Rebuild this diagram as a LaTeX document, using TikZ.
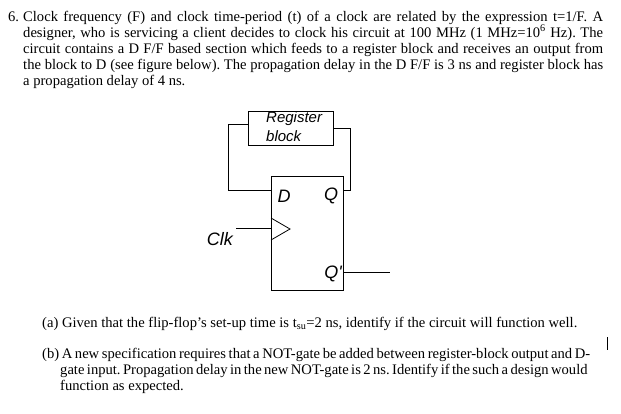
\documentclass[tikz,border=0pt]{standalone}
\usepackage{fontspec}
\setmainfont{Liberation Serif}
\newfontfamily\arial{Liberation Sans}
\begin{document}
\frenchspacing
\begin{tikzpicture}[x=1pt,y=-1pt,
  txt/.style={anchor=base west,inner sep=0pt,font=\fontsize{14.6}{17}\selectfont},
  lbl/.style={inner sep=0pt,font=\arial\itshape\fontsize{18}{20}\selectfont},
  rlbl/.style={inner sep=0pt,font=\arial\itshape\fontsize{15}{17}\selectfont},
  wire/.style={line width=0.8pt}]
\useasboundingbox (0,0) rectangle (621,413);
\node[txt] (n6) at (8,21) {6.};
\node[txt] (l1) at (23,21) {\makebox[580pt][s]{Clock frequency (F) and clock time-period (t) of a clock are related by the expression t=1/F. A}};
\node[txt] (l2) at (23,37) {\makebox[580pt][s]{designer, who is servicing a client decides to clock his circuit at 100 MHz (1 MHz=10\textsuperscript{6} Hz). The}};
\node[txt] (l3) at (23,53) {\makebox[580pt][s]{circuit contains a D F/F based section which feeds to a register block and receives an output from}};
\node[txt] (l4) at (23,69) {\makebox[580pt][s]{the block to D (see figure below). The propagation delay in the D F/F is 3 ns and register block has}};
\node[txt] (l5) at (23,85) {a propagation delay of 4 ns.};
\node[txt] (a1) at (42,327) {(a) Given that the flip-flop's set-up time is t\textsubscript{su}=2 ns, identify if the circuit will function well.};
\node[txt] (b1) at (42,358) {\makebox[548pt][s]{(b) A new specification requires that a NOT-gate be added between register-block output and D-}};
\node[txt] (b2) at (60,374) {\makebox[527pt][s]{gate input. Propagation delay in the new NOT-gate is 2 ns. Identify if the such a design would}};
\node[txt] (b3) at (60,390) {function as expected.};
\draw[line width=0.6pt] (607,337) -- (607,350);
% register block
\draw[wire] (248,111) rectangle (333,145);
\node[rlbl,anchor=west] (r1) at (266,119) {Register};
\node[rlbl,anchor=west] (r2) at (266,136) {block};
% flip-flop
\draw[wire] (271,176) rectangle (343,290);
\coordinate (rin) at (248,124);
\coordinate (rout) at (333,128);
\coordinate (din) at (271,190);
\coordinate (qout) at (343,190);
\draw[wire] (rin) -- (228,124) -- (228,190) -- (din);
\draw[wire] (qout) -- (350,190) -- (350,128) -- (rout);
\node[lbl] (D) at (284,196) {D};
\node[lbl] (Q) at (331,196) {Q};
\node[lbl] (Qp) at (333,274) {Q'};
\draw[wire] (271,218) -- (290,229) -- (271,240);
\node[lbl,anchor=east] (clk) at (233,239) {Clk};
\coordinate (ck) at (271,228);
\draw[wire] (236,228) -- (ck);
\coordinate (qpo) at (343,272);
\coordinate (qpe) at (390,272);
\draw[wire] (qpo) -- (qpe);
\end{tikzpicture}
\end{document}
